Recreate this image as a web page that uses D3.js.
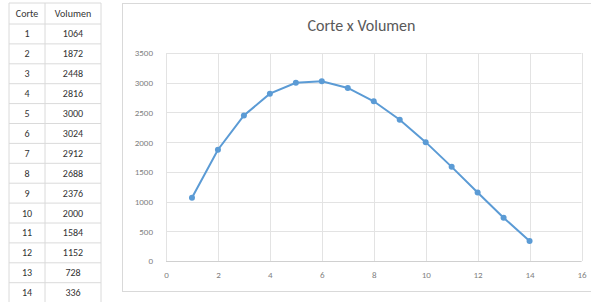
<!DOCTYPE html>
<html lang="es">
<head>
<meta charset="UTF-8">
<title>Corte x Volumen</title>
<script src="https://d3js.org/d3.v7.min.js"></script>
<style>
  body { margin: 0; background: #fff; }
  svg { display: block; }
</style>
</head>
<body>
<script>
// data read from the sheet
var corte = [1, 2, 3, 4, 5, 6, 7, 8, 9, 10, 11, 12, 13, 14];
var volumen = [1064, 1872, 2448, 2816, 3000, 3024, 2912, 2688, 2376, 2000, 1584, 1152, 728, 336];
var xTicks = [0, 2, 4, 6, 8, 10, 12, 14, 16];
var yTicks = [0, 500, 1000, 1500, 2000, 2500, 3000, 3500];
var headers = ["Corte", "Volumen"];

var W = 591, H = 302;
var font = "Carlito, 'Liberation Sans', 'DejaVu Sans', sans-serif";

var svg = d3.select("body").append("svg")
    .attr("width", W)
    .attr("height", H);

// ---- table on the left ----
var tbl = svg.append("g");
var colX = [9, 45, 101];
var rowTop = 3, headH = 21, rowH = 19.9;
var nRows = corte.length;
var tableBottom = rowTop + headH + nRows * rowH;

var rowsY = d3.range(nRows + 1).map(function(i) { return rowTop + headH + i * rowH; });
rowsY.unshift(rowTop);

tbl.selectAll("line.h").data(rowsY).enter().append("line")
    .attr("x1", colX[0]).attr("x2", colX[2])
    .attr("y1", function(d) { return d; }).attr("y2", function(d) { return d; })
    .attr("stroke", "#dadada").attr("stroke-width", 1);

tbl.selectAll("line.v").data(colX).enter().append("line")
    .attr("x1", function(d) { return d; }).attr("x2", function(d) { return d; })
    .attr("y1", rowTop).attr("y2", tableBottom)
    .attr("stroke", "#dadada").attr("stroke-width", 1);

tbl.selectAll("text.head").data(headers).enter().append("text")
    .attr("x", function(d, i) { return (colX[i] + colX[i + 1]) / 2; })
    .attr("y", rowTop + headH / 2 + 3.5)
    .attr("text-anchor", "middle")
    .style("font-family", font).style("font-size", "10px").attr("fill", "#333")
    .text(function(d) { return d; });

var rows = tbl.selectAll("g.row").data(corte).enter().append("g")
    .attr("transform", function(d, i) { return "translate(0," + (rowTop + headH + i * rowH + rowH / 2 + 3.5) + ")"; });
rows.append("text")
    .attr("x", (colX[0] + colX[1]) / 2)
    .attr("text-anchor", "middle")
    .style("font-family", font).style("font-size", "10px").attr("fill", "#333")
    .text(function(d) { return d; });
rows.append("text")
    .attr("x", (colX[1] + colX[2]) / 2)
    .attr("text-anchor", "middle")
    .style("font-family", font).style("font-size", "10px").attr("fill", "#333")
    .text(function(d, i) { return volumen[i]; });

// ---- chart box ----
svg.append("rect")
    .attr("x", 122.5).attr("y", 3.5)
    .attr("width", 480).attr("height", 288)
    .attr("fill", "#fff").attr("stroke", "#d9d9d9");

var margin = {left: 166, top: 53, right: 581.5, bottom: 261};

var x = d3.scaleLinear().domain([0, 16]).range([margin.left, margin.right]);
var y = d3.scaleLinear().domain([0, 3500]).range([margin.bottom, margin.top]);

// gridlines
svg.append("g").selectAll("line").data(yTicks).enter().append("line")
    .attr("x1", margin.left).attr("x2", margin.right)
    .attr("y1", function(d) { return Math.round(y(d)) + 0.5; })
    .attr("y2", function(d) { return Math.round(y(d)) + 0.5; })
    .attr("stroke", "#e3e3e3");
svg.append("g").selectAll("line").data(xTicks).enter().append("line")
    .attr("x1", function(d) { return Math.round(x(d)) + 0.5; })
    .attr("x2", function(d) { return Math.round(x(d)) + 0.5; })
    .attr("y1", margin.top).attr("y2", margin.bottom)
    .attr("stroke", "#e3e3e3");

// axes (labels only, Excel style)
var xAxis = svg.append("g")
    .attr("transform", "translate(0," + margin.bottom + ")")
    .call(d3.axisBottom(x).tickValues(xTicks).tickSize(0).tickPadding(11));
var yAxis = svg.append("g")
    .attr("transform", "translate(" + margin.left + ",0)")
    .call(d3.axisLeft(y).tickValues(yTicks).tickSize(0).tickPadding(13).tickFormat(d3.format("d")));
[xAxis, yAxis].forEach(function(a) {
    a.select(".domain").remove();
    a.selectAll("text")
        .style("font-family", font).style("font-size", "9px").attr("fill", "#7f7f7f");
});
// bottom axis line
svg.append("line")
    .attr("x1", margin.left).attr("x2", margin.right)
    .attr("y1", margin.bottom + 0.5).attr("y2", margin.bottom + 0.5)
    .attr("stroke", "#d0d0d0");

// title
svg.append("text")
    .attr("x", 361.5).attr("y", 31)
    .attr("text-anchor", "middle")
    .style("font-family", font).style("font-size", "16px").attr("fill", "#595959")
    .text("Corte x Volumen");

// series: straight segments between points
var pts = corte.map(function(c, i) { return [c, volumen[i]]; });
var line = d3.line()
    .x(function(d) { return x(d[0]); })
    .y(function(d) { return y(d[1]); });

svg.append("path")
    .datum(pts)
    .attr("d", line)
    .attr("fill", "none")
    .attr("stroke", "#5b9bd5")
    .attr("stroke-width", 2);

svg.selectAll("circle.pt").data(pts).enter().append("circle")
    .attr("cx", function(d) { return x(d[0]); })
    .attr("cy", function(d) { return y(d[1]); })
    .attr("r", 3)
    .attr("fill", "#5b9bd5");
</script>
</body>
</html>
